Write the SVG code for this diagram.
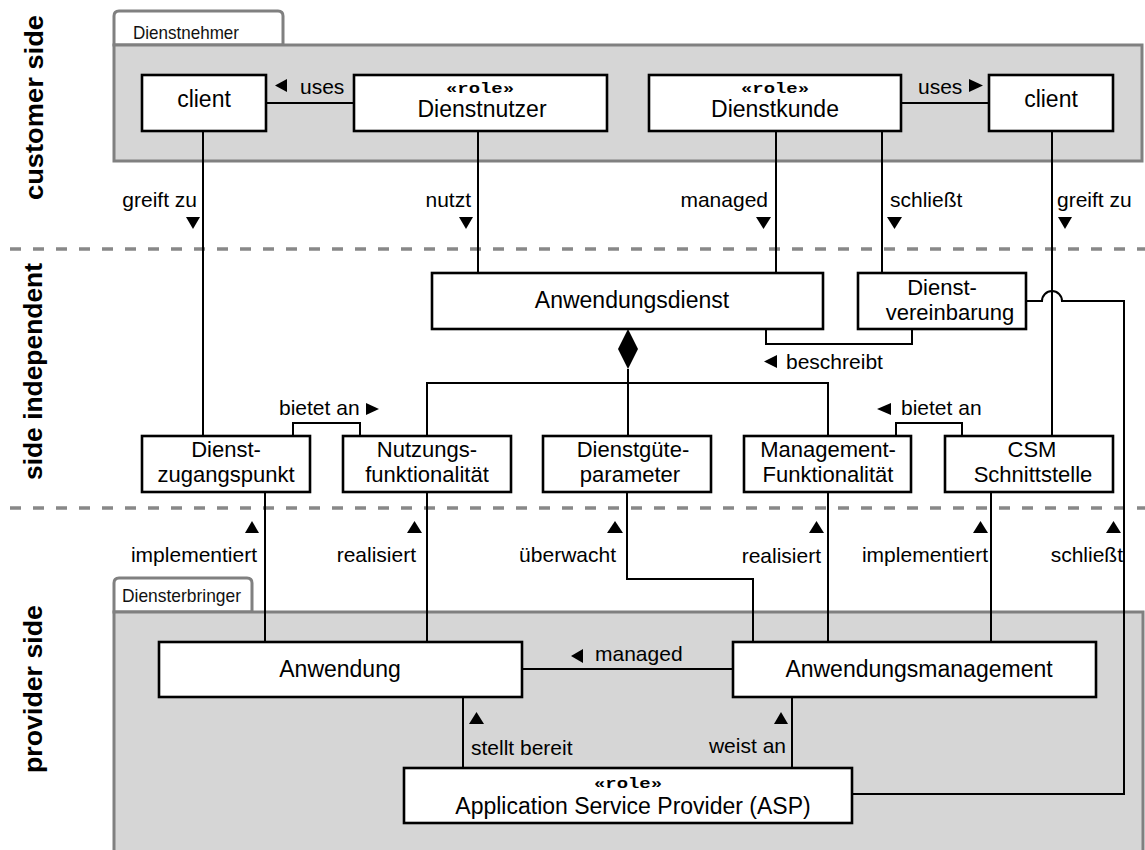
<svg xmlns="http://www.w3.org/2000/svg" width="1145" height="850" viewBox="0 0 1145 850">
  <style>
    .pkg { fill: #d6d6d6; stroke: #808080; stroke-width: 3; }
    .tab { fill: #ffffff; stroke: #808080; stroke-width: 3; }
    .tabtxt { font-family: "Liberation Sans", Arial, sans-serif; font-size: 19px; fill: #111; }
    .sep { stroke: #888888; stroke-width: 3.5; stroke-dasharray: 11 12; fill: none; }
    .side { font-family: "Liberation Sans", Arial, sans-serif; font-size: 25px; font-weight: bold; fill: #000; text-anchor: middle; }
    .box { fill: #ffffff; stroke: #000; stroke-width: 2.6; }
    .name { font-family: "Liberation Sans", Arial, sans-serif; font-size: 23px; fill: #000; text-anchor: middle; }
    .name2 { font-family: "Liberation Sans", Arial, sans-serif; font-size: 22px; fill: #000; text-anchor: middle; }
    .stereo { font-family: "Liberation Mono", "Courier New", monospace; font-size: 15px; font-weight: bold; fill: #000; text-anchor: middle; }
    .conn path, .conn line { stroke: #000; stroke-width: 2; fill: none; }
    .conn polygon { fill: #000; stroke: none; }
    .lbl { font-family: "Liberation Sans", Arial, sans-serif; font-size: 21px; fill: #000; }
    .end { text-anchor: end; }
    .tri { fill: #000; }
  </style>

  <!-- packages -->
  <g id="pkg-dienstnehmer">
    <path class="tab" d="M114,45 V16 Q114,11 119,11 H278 Q283,11 283,16 V45 Z"/>
    <rect class="pkg" x="114" y="45" width="1028" height="116"/>
    <text class="tabtxt" x="133" y="39" textLength="106" lengthAdjust="spacingAndGlyphs">Dienstnehmer</text>
  </g>
  <g id="pkg-diensterbringer">
    <path class="tab" d="M114,612 V583 Q114,578 119,578 H247 Q252,578 252,583 V612 Z"/>
    <rect class="pkg" x="114" y="612" width="1029" height="260"/>
    <text class="tabtxt" x="122" y="602" textLength="119" lengthAdjust="spacingAndGlyphs">Diensterbringer</text>
  </g>

  <!-- side separators and captions -->
  <g id="separators">
    <line class="sep" x1="10" y1="249" x2="1145" y2="249"/>
    <line class="sep" x1="10" y1="508" x2="1145" y2="508"/>
  </g>
  <g id="captions">
    <text class="side" transform="translate(43,107.5) rotate(-90)" textLength="185" lengthAdjust="spacingAndGlyphs">customer side</text>
    <text class="side" transform="translate(42,371.5) rotate(-90)" textLength="217" lengthAdjust="spacingAndGlyphs">side independent</text>
    <text class="side" transform="translate(42,689) rotate(-90)" textLength="168" lengthAdjust="spacingAndGlyphs">provider side</text>
  </g>

  <!-- connectors -->
  <g id="connectors" class="conn">
    <line x1="266" y1="103" x2="354" y2="103"/>
    <line x1="901" y1="103" x2="989" y2="103"/>
    <line x1="203" y1="131" x2="203" y2="436"/>
    <line x1="478" y1="131" x2="478" y2="273"/>
    <line x1="776" y1="131" x2="776" y2="273"/>
    <line x1="882" y1="131" x2="882" y2="273"/>
    <line x1="1052" y1="131" x2="1052" y2="436"/>
    <path d="M766,329 V344 H912 V329"/>
    <path d="M1026,301 H1042 A10,10 0 0 1 1062,301 H1124 V794 H852"/>
    <!-- composition of the service parts -->
    <path d="M628,369 V383 M427,436 V383 H828 V436 M628,383 V436"/>
    <polygon points="628,329 638,349 628,369 618,349"/>
    <path d="M293,436 V423 H360 V436"/>
    <path d="M896,436 V423 H962 V436"/>
    <line x1="265" y1="492" x2="265" y2="642"/>
    <line x1="427" y1="492" x2="427" y2="642"/>
    <path d="M627,492 V579 H753 V642"/>
    <line x1="828" y1="492" x2="828" y2="642"/>
    <line x1="991" y1="492" x2="991" y2="642"/>
    <line x1="522" y1="669" x2="733" y2="669"/>
    <line x1="463" y1="697" x2="463" y2="768"/>
    <line x1="792" y1="697" x2="792" y2="768"/>
  </g>

  <!-- nodes -->
  <g id="client-left">
    <rect class="box" x="142" y="75" width="124" height="56"/>
    <text class="name" x="204" y="107">client</text>
  </g>
  <g id="dienstnutzer">
    <rect class="box" x="354" y="75" width="253" height="56"/>
    <text class="stereo" x="480" y="93" textLength="68" lengthAdjust="spacingAndGlyphs">«role»</text>
    <text class="name" x="482" y="117">Dienstnutzer</text>
  </g>
  <g id="dienstkunde">
    <rect class="box" x="649" y="75" width="252" height="56"/>
    <text class="stereo" x="775" y="93" textLength="68" lengthAdjust="spacingAndGlyphs">«role»</text>
    <text class="name" x="775" y="117">Dienstkunde</text>
  </g>
  <g id="client-right">
    <rect class="box" x="989" y="75" width="124" height="56"/>
    <text class="name" x="1051" y="107">client</text>
  </g>
  <g id="anwendungsdienst">
    <rect class="box" x="432" y="273" width="391" height="56"/>
    <text class="name" x="632" y="308">Anwendungsdienst</text>
  </g>
  <g id="dienstvereinbarung">
    <rect class="box" x="858" y="273" width="168" height="56"/>
    <text class="name2" x="942" y="295">Dienst-</text>
    <text class="name2" x="950" y="320">vereinbarung</text>
  </g>
  <g id="dienstzugangspunkt">
    <rect class="box" x="142" y="436" width="168" height="56"/>
    <text class="name2" x="226" y="457">Dienst-</text>
    <text class="name2" x="226" y="482">zugangspunkt</text>
  </g>
  <g id="nutzungsfunktionalitaet">
    <rect class="box" x="343" y="436" width="168" height="56"/>
    <text class="name2" x="427" y="457">Nutzungs-</text>
    <text class="name2" x="427" y="482">funktionalität</text>
  </g>
  <g id="dienstgueteparameter">
    <rect class="box" x="543" y="436" width="168" height="56"/>
    <text class="name2" x="633" y="457">Dienstgüte-</text>
    <text class="name2" x="630" y="482">parameter</text>
  </g>
  <g id="managementfunktionalitaet">
    <rect class="box" x="744" y="436" width="167" height="56"/>
    <text class="name2" x="828" y="457">Management-</text>
    <text class="name2" x="828" y="482">Funktionalität</text>
  </g>
  <g id="csm-schnittstelle">
    <rect class="box" x="945" y="436" width="168" height="56"/>
    <text class="name2" x="1032" y="457">CSM</text>
    <text class="name2" x="1033" y="482">Schnittstelle</text>
  </g>
  <g id="anwendung">
    <rect class="box" x="159" y="642" width="363" height="55"/>
    <text class="name" x="340" y="677">Anwendung</text>
  </g>
  <g id="anwendungsmanagement">
    <rect class="box" x="733" y="642" width="363" height="55"/>
    <text class="name" x="919" y="677">Anwendungsmanagement</text>
  </g>
  <g id="asp">
    <rect class="box" x="404" y="768" width="448" height="55"/>
    <text class="stereo" x="628" y="788" textLength="68" lengthAdjust="spacingAndGlyphs">«role»</text>
    <text class="name" x="633" y="814">Application Service Provider (ASP)</text>
  </g>

  <!-- association labels with direction marks -->
  <g id="labels">
    <polygon class="tri" points="275,85.5 287,79 287,92"/>
    <text class="lbl" x="300" y="94">uses</text>
    <text class="lbl" x="918" y="94">uses</text>
    <polygon class="tri" points="983,85.5 969,79 969,92"/>

    <text class="lbl end" x="197" y="207">greift zu</text>
    <polygon class="tri" points="186,217 200,217 193,229"/>
    <text class="lbl end" x="471" y="207">nutzt</text>
    <polygon class="tri" points="459,217 473,217 466,229"/>
    <text class="lbl end" x="768" y="207">managed</text>
    <polygon class="tri" points="756,217 771,217 763.5,229"/>
    <text class="lbl" x="890" y="207">schließt</text>
    <polygon class="tri" points="887,217 902,217 894.5,229"/>
    <text class="lbl" x="1057" y="207">greift zu</text>
    <polygon class="tri" points="1058,217 1072,217 1065,229"/>

    <polygon class="tri" points="764,361.5 777,355 777,368"/>
    <text class="lbl" x="786" y="369">beschreibt</text>

    <text class="lbl" x="279" y="415">bietet an</text>
    <polygon class="tri" points="379,409 366,403 366,415"/>
    <polygon class="tri" points="877,409 891,403 891,415"/>
    <text class="lbl" x="901" y="415">bietet an</text>

    <polygon class="tri" points="245,533 259,533 252,521"/>
    <text class="lbl end" x="257" y="562">implementiert</text>
    <polygon class="tri" points="407,533 422,533 414.5,521"/>
    <text class="lbl end" x="416" y="562">realisiert</text>
    <polygon class="tri" points="607,533 623,533 615,521"/>
    <text class="lbl end" x="616" y="562">überwacht</text>
    <polygon class="tri" points="809,533 824,533 816.5,521"/>
    <text class="lbl end" x="821" y="563">realisiert</text>
    <polygon class="tri" points="973,533 988,533 980.5,521"/>
    <text class="lbl end" x="988" y="562">implementiert</text>
    <polygon class="tri" points="1106,533 1121,533 1113.5,521"/>
    <text class="lbl end" x="1123" y="562">schließt</text>

    <polygon class="tri" points="571,656 583,649 583,663"/>
    <text class="lbl" x="595" y="661">managed</text>
    <polygon class="tri" points="469,724 484,724 476.5,712"/>
    <text class="lbl" x="471" y="755">stellt bereit</text>
    <polygon class="tri" points="774,724 788,724 781,712"/>
    <text class="lbl end" x="786" y="753">weist an</text>
  </g>
</svg>
